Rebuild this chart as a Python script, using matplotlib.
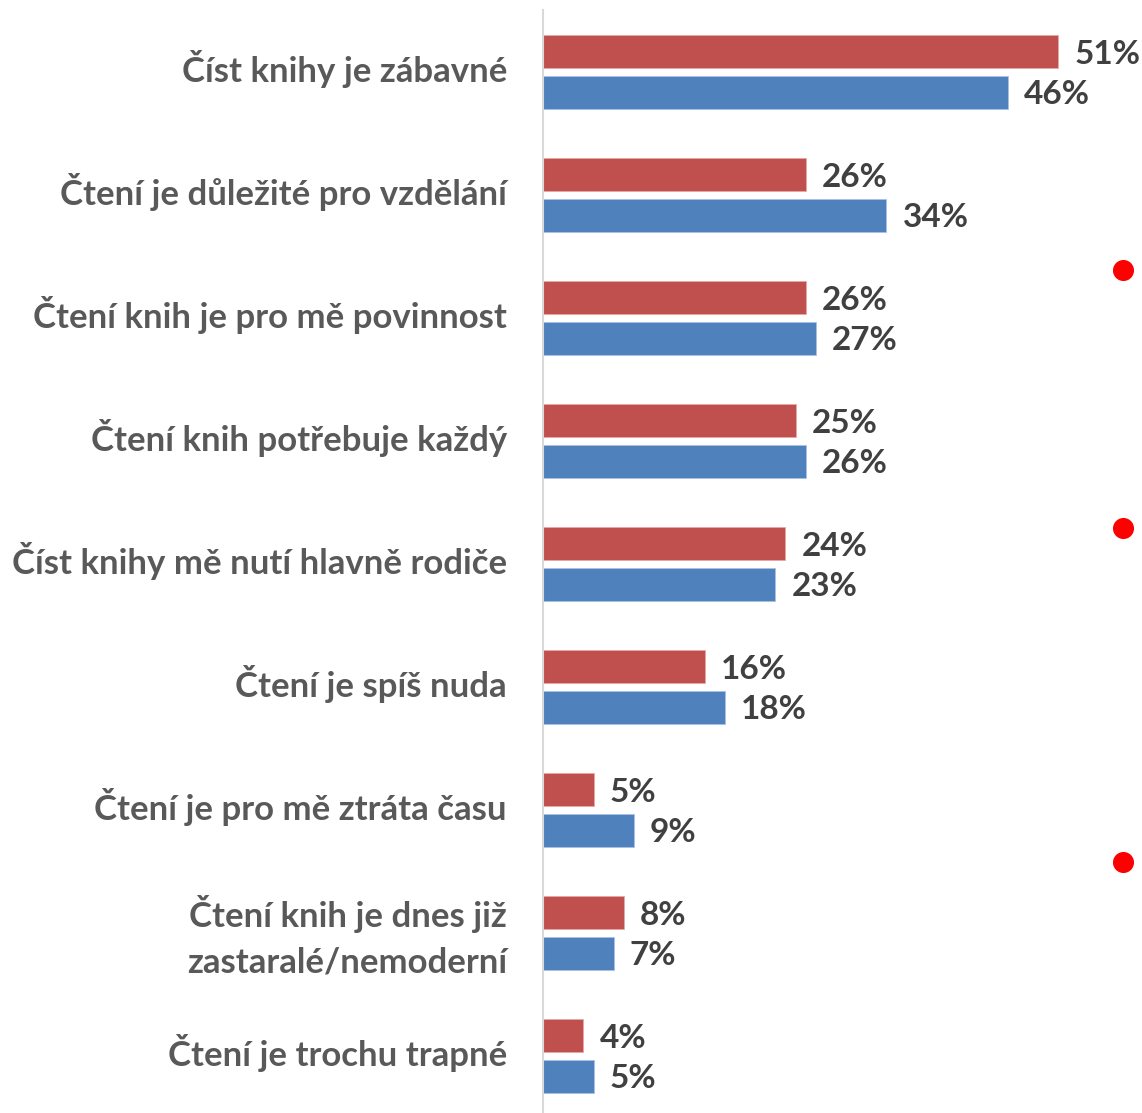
import matplotlib
matplotlib.use("Agg")
import matplotlib.pyplot as plt
import numpy as np

categories = [
    "Číst knihy je zábavné",
    "Čtení je důležité pro vzdělání",
    "Čtení knih je pro mě povinnost",
    "Čtení knih potřebuje každý",
    "Číst knihy mě nutí hlavně rodiče",
    "Čtení je spíš nuda",
    "Čtení je pro mě ztráta času",
    "Čtení knih je dnes již\nzastaralé/nemoderní",
    "Čtení je trochu trapné",
]
red_values = [51, 26, 26, 25, 24, 16, 5, 8, 4]
blue_values = [46, 34, 27, 26, 23, 18, 9, 7, 5]

dot_x = [57.4, 57.4, 57.4]
dot_y = [1.61, 3.71, 6.42]

RED = "#C0504D"
BLUE = "#4F81BD"

plt.rcParams['font.family'] = ['Lato', 'DejaVu Sans']

W, H = 1142, 1113
fig = plt.figure(figsize=(W / 100, H / 100), dpi=100)
ax = fig.add_axes([543 / W, 0, 1 - 543 / W, 1 - 10 / H])

y = np.arange(len(categories))
off = 0.163
h = 0.268
ax.barh(y - off, red_values, height=h, color=RED, edgecolor="#E8A9A8", linewidth=0.6)
ax.barh(y + off, blue_values, height=h, color=BLUE, edgecolor="#A9C2E3", linewidth=0.6)

for yi, v in zip(y, red_values):
    ax.text(v + 1.6, yi - off + 0.02, f"{v}%", ha="left", va="center",
            fontsize=24, fontweight="bold", color="#404040")
for yi, v in zip(y, blue_values):
    ax.text(v + 1.6, yi + off + 0.02, f"{v}%", ha="left", va="center",
            fontsize=24, fontweight="bold", color="#404040")

ax.scatter(dot_x, dot_y, s=200, color="#FF0000", clip_on=False, zorder=5)

ax.set_xlim(0, (W - 543) / 10.1)
ax.set_ylim((1113 - 72) / 123, (10 - 72) / 123)
ax.set_yticks(y - 0.045)
ax.set_yticklabels(categories, fontsize=25, fontweight="bold", color="#595959",
                   ha="right", linespacing=1.5)
ax.tick_params(axis="y", length=0, pad=26)
ax.set_xticks([])
for s in ["top", "right", "bottom"]:
    ax.spines[s].set_visible(False)
ax.spines["left"].set_color("#D9D9D9")
ax.spines["left"].set_linewidth(1.5)

fig.savefig("out.png", dpi=100)
